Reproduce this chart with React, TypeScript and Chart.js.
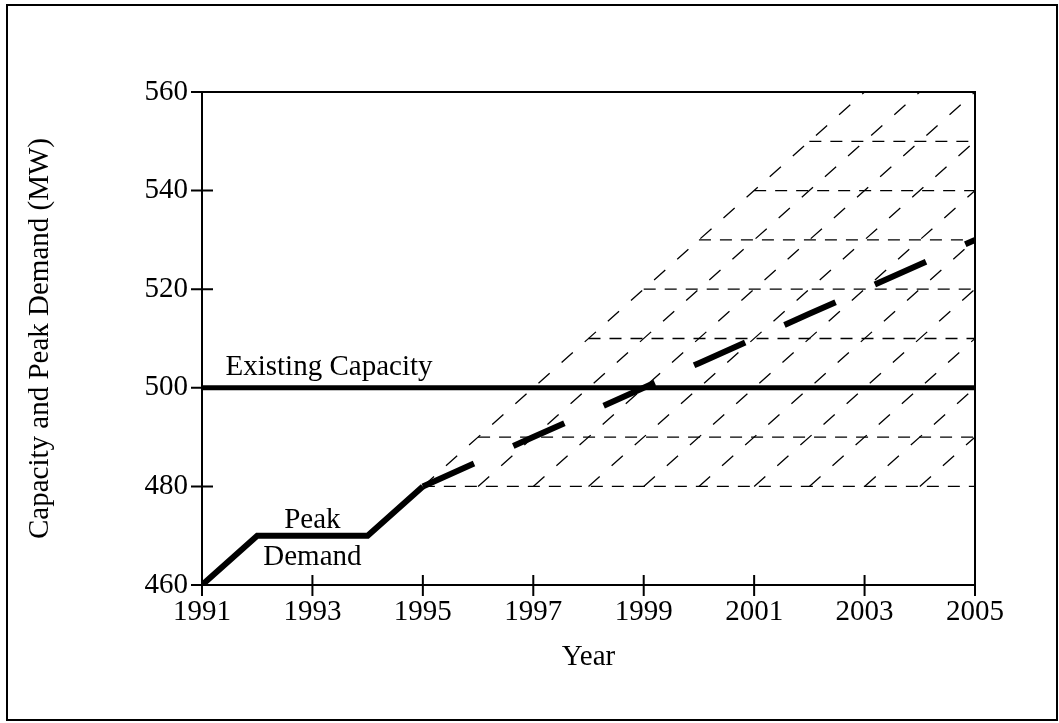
import React, { useEffect, useRef } from "react";
import { Chart, registerables } from "chart.js";

Chart.register(...registerables);

// ---- data ----
const xTickYears = [1991, 1993, 1995, 1997, 1999, 2001, 2003, 2005];
const yTickValues = [460, 480, 500, 520, 540, 560];

const capacityYears = [1991, 2005];
const capacityMW = [500, 500];

const peakYears = [1991, 1992, 1993, 1994, 1995];
const peakMW = [460, 470, 470, 470, 480];

const forecastYears = [1995, 1996, 1997, 1998, 1999, 2000, 2001, 2002, 2003, 2004, 2005];
const forecastMW = [480, 485, 490, 495, 500, 505, 510, 515, 520, 525, 530];

// horizontal dashed levels inside the uncertainty band, and the year each begins
const bandLevels = [480, 490, 510, 520, 530, 540, 550];
const bandLevelStartYears = [1995, 1996, 1998, 1999, 2000, 2001, 2002];
const bandEndYear = 2005;

// diagonal hatch lines of the band: start year at the base level, rising to the top level
const hatchStartYears = [1995, 1996, 1997, 1998, 1999, 2000, 2001, 2002, 2003, 2004];
const hatchBaseMW = 480;
const hatchTopMW = 560;
const hatchYearsToTop = 8;

const labelTexts = ["Existing Capacity", "Peak", "Demand"];
const labelYears = [1993.3, 1993.0, 1993.0];
const labelMW = [502.6, 471.6, 464.0];

const FONT = '"Liberation Serif", "Times New Roman", serif';
const FS = 29;

export default function App() {
  const ref = useRef<HTMLCanvasElement | null>(null);

  useEffect(() => {
    const canvas = ref.current;
    if (!canvas) return;

    const thick = (data: any[], extra: any = {}) => ({
      data,
      borderColor: "#000",
      borderWidth: 5,
      pointRadius: 0,
      fill: false,
      tension: 0,
      borderCapStyle: "butt",
      borderJoinStyle: "miter",
      ...extra,
    });

    const datasets: any[] = [];
    datasets.push(thick(capacityYears.map((x, i) => ({ x, y: capacityMW[i] }))));
    datasets.push(thick(peakYears.map((x, i) => ({ x, y: peakMW[i] })), { borderWidth: 6 }));
    datasets.push(
      thick(forecastYears.map((x, i) => ({ x, y: forecastMW[i] })), {
        borderWidth: 6,
        borderDash: [56, 43],
      })
    );
    bandLevels.forEach((lvl, i) => {
      datasets.push({
        data: [
          { x: bandLevelStartYears[i], y: lvl },
          { x: bandEndYear, y: lvl },
        ],
        borderColor: "#000",
        borderWidth: 1.3,
        borderDash: [12, 9],
        pointRadius: 0,
        fill: false,
      });
    });
    hatchStartYears.forEach((yr) => {
      datasets.push({
        data: [
          { x: yr, y: hatchBaseMW },
          { x: yr + hatchYearsToTop, y: hatchTopMW },
        ],
        borderColor: "#000",
        borderWidth: 1.3,
        borderDash: [15, 16],
        pointRadius: 0,
        fill: false,
      });
    });

    const decor = {
      id: "decor",
      afterDatasetsDraw(chart: any) {
        const { ctx, chartArea, scales } = chart;
        const { left, right, top, bottom } = chartArea;
        const xs = scales.x;
        const ys = scales.y;
        ctx.save();
        ctx.strokeStyle = "#000";
        ctx.lineWidth = 2;
        ctx.strokeRect(left, top, right - left, bottom - top);
        ctx.beginPath();
        for (const v of yTickValues) {
          const py = ys.getPixelForValue(v);
          ctx.moveTo(left - 11, py);
          ctx.lineTo(left + 11, py);
        }
        for (const v of xTickYears) {
          const px = xs.getPixelForValue(v);
          ctx.moveTo(px, bottom - 10);
          ctx.lineTo(px, bottom + 11);
        }
        ctx.stroke();
        ctx.fillStyle = "#000";
        ctx.font = `${FS}px ${FONT}`;
        ctx.textAlign = "center";
        ctx.textBaseline = "alphabetic";
        labelTexts.forEach((t, i) => {
          ctx.fillText(t, xs.getPixelForValue(labelYears[i]), ys.getPixelForValue(labelMW[i]));
        });
        ctx.lineWidth = 2;
        ctx.strokeRect(7, 5, 1050, 715);
        ctx.restore();
      },
    };

    const chart = new Chart(canvas, {
      type: "line",
      data: { datasets },
      plugins: [decor],
      options: {
        animation: false,
        responsive: false,
        devicePixelRatio: 1,
        events: [],
        layout: { padding: { left: 0, top: 92, right: 84, bottom: 0 } },
        plugins: { legend: { display: false }, tooltip: { enabled: false } },
        scales: {
          x: {
            type: "linear",
            min: 1991,
            max: 2005,
            afterBuildTicks: (s: any) => {
              s.ticks = xTickYears.map((v) => ({ value: v }));
            },
            afterFit: (s: any) => {
              s.height = 138;
            },
            grid: { display: false, drawTicks: false },
            border: { display: false },
            ticks: {
              color: "#000",
              font: { family: FONT, size: FS },
              padding: 10,
              maxRotation: 0,
              autoSkip: false,
              callback: (v: any) => String(v),
            },
            title: {
              display: true,
              text: "Year",
              color: "#000",
              font: { family: FONT, size: FS },
              padding: { top: 0, bottom: 48 },
            },
          },
          y: {
            type: "linear",
            min: 460,
            max: 560,
            afterBuildTicks: (s: any) => {
              s.ticks = yTickValues.map((v) => ({ value: v }));
            },
            afterFit: (s: any) => {
              s.width = 202;
            },
            grid: { display: false, drawTicks: false },
            border: { display: false },
            ticks: {
              color: "#000",
              font: { family: FONT, size: FS },
              padding: 14,
              autoSkip: false,
              callback: (v: any) => String(v),
            },
            title: {
              display: true,
              text: "Capacity and Peak Demand (MW)",
              color: "#000",
              font: { family: FONT, size: FS },
              padding: { top: 23, bottom: 0 },
            },
          },
        },
      },
    });

    return () => chart.destroy();
  }, []);

  return (
    <div style={{ position: "fixed", left: 0, top: 0, width: 1059, height: 723, background: "#fff" }}>
      <canvas ref={ref} width={1059} height={723} style={{ display: "block", width: 1059, height: 723 }} />
    </div>
  );
}
